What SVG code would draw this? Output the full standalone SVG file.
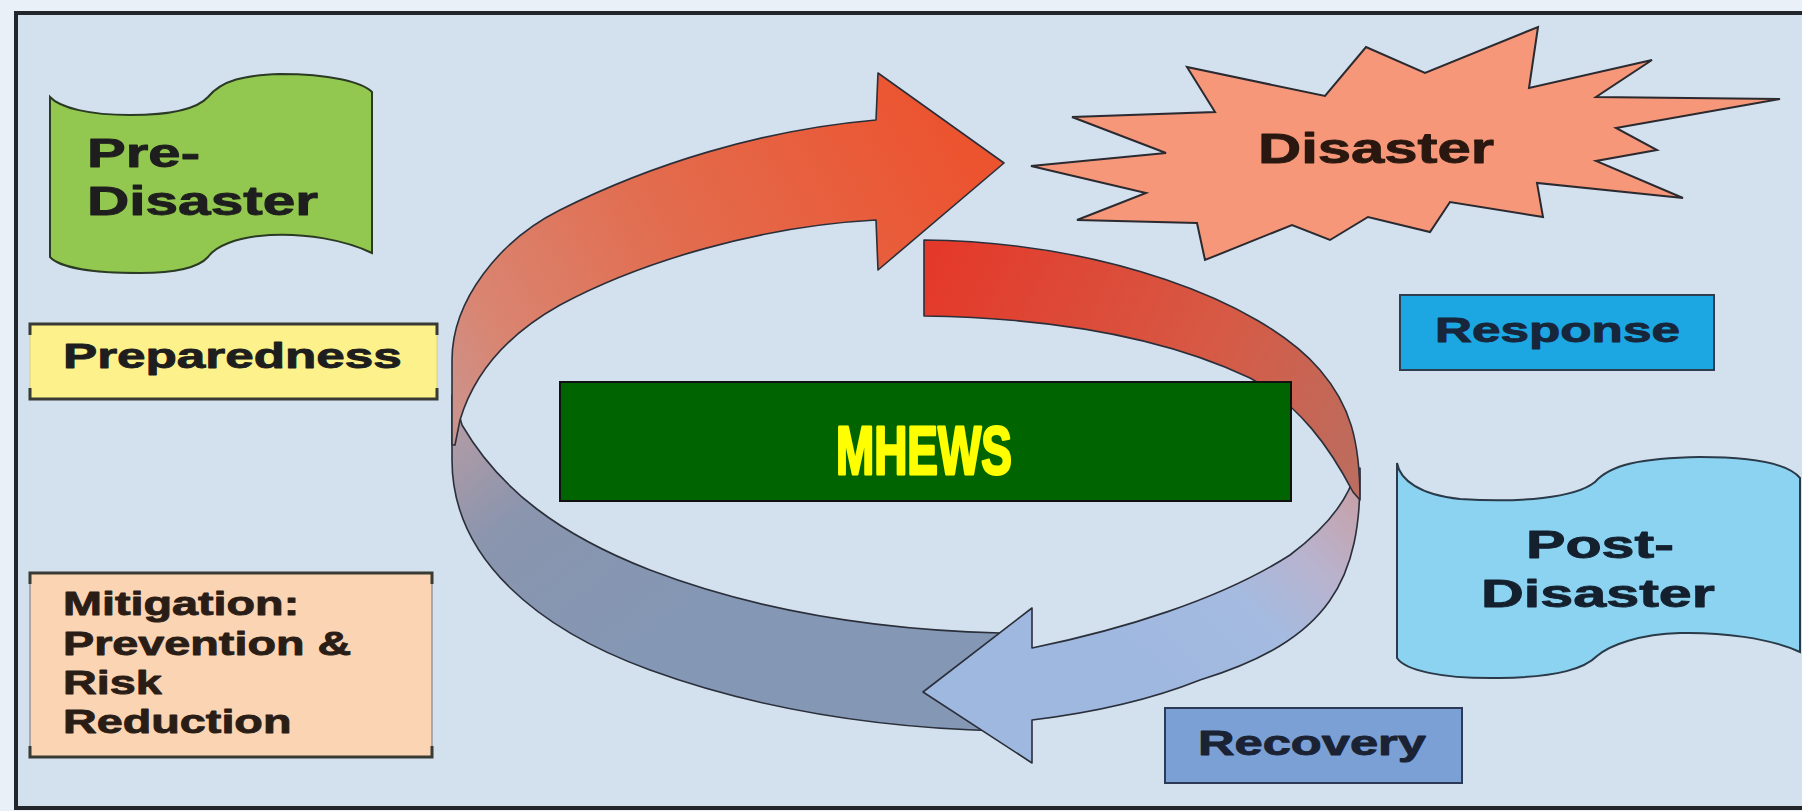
<svg xmlns="http://www.w3.org/2000/svg" width="1802" height="811" viewBox="0 0 1802 811">
  <defs>
    <style>
      .lbl { font-family: "Liberation Sans", Arial, sans-serif; font-weight: bold; fill: #1e1e1e; stroke: #1e1e1e; stroke-width: 0.9; stroke-linejoin: round; }
      .band { stroke: #2a2f3a; stroke-width: 1.6; stroke-linejoin: round; }
      .bracket { fill: none; stroke: #3a3a34; stroke-width: 3; }
    </style>
    <linearGradient id="gRedTop" gradientUnits="userSpaceOnUse" x1="960" y1="160" x2="455" y2="440">
      <stop offset="0" stop-color="#ec5430"/>
      <stop offset="0.5" stop-color="#e26c4e"/>
      <stop offset="0.85" stop-color="#d98572"/>
      <stop offset="1" stop-color="#c9958f"/>
    </linearGradient>
    <linearGradient id="gGreyBand" gradientUnits="userSpaceOnUse" x1="455" y1="410" x2="640" y2="650">
      <stop offset="0" stop-color="#b79ca4"/>
      <stop offset="0.4" stop-color="#8a95ae"/>
      <stop offset="1" stop-color="#8497b4"/>
    </linearGradient>
    <linearGradient id="gRedRight" gradientUnits="userSpaceOnUse" x1="924" y1="280" x2="1360" y2="490">
      <stop offset="0" stop-color="#e4392a"/>
      <stop offset="0.6" stop-color="#d65a45"/>
      <stop offset="1" stop-color="#bb6e60"/>
    </linearGradient>
    <linearGradient id="gBlueArrow" gradientUnits="userSpaceOnUse" x1="1350" y1="480" x2="1150" y2="690">
      <stop offset="0" stop-color="#c7a0a6"/>
      <stop offset="0.3" stop-color="#b8b3cf"/>
      <stop offset="0.55" stop-color="#a5bbe0"/>
      <stop offset="1" stop-color="#9fb8e0"/>
    </linearGradient>
  </defs>

  <!-- page and frame -->
  <rect x="0" y="0" width="1802" height="811" fill="#eaf0f7"/>
  <rect x="16" y="13" width="1800" height="795" fill="#d3e0ee" stroke="#22262b" stroke-width="4"/>

  <!-- cycle ribbon -->
  <g id="connectors">
    <path class="band" fill="url(#gGreyBand)" d="M452,395 L452,460 C452,560 540,630 650,670 C760,710 880,728 1000,731 L1000,633 C880,630 760,612 650,570 C560,535 500,490 462,425 L455,400 Z"/>
    <path class="band" fill="url(#gRedTop)" d="M452,445 L452,360 C452,300 500,240 560,210 C650,165 760,130 876,120 L878,73 L1004,163 L878,270 L876,220 C760,226 640,262 560,305 C510,333 475,370 460,420 L455,445 Z"/>
    <path class="band" fill="url(#gBlueArrow)" d="M1360,468 C1362,580 1330,640 1200,680 C1150,700 1090,713 1032,720 L1032,763 L923,692 L1032,608 L1032,648 C1120,630 1220,600 1290,555 C1330,525 1350,495 1356,470 Z"/>
    <path class="band" fill="url(#gRedRight)" d="M924,240 C1100,242 1260,300 1320,370 C1350,405 1360,440 1360,500 L1353,492 C1330,448 1300,405 1250,378 C1170,340 1060,318 924,316 Z"/>
  </g>

  <g id="pre-disaster">
    <path d="M50,97 C60,108 90,115 130,115 C175,115 198,108 208,97 C222,80 245,75 280,74 C330,74 362,82 372,92 L372,253 C345,240 305,233 270,235 C235,237 215,247 208,257 C198,268 175,273 140,273 C95,273 60,268 50,257 Z" fill="#93c850" stroke="#2b3a24" stroke-width="2"/>
    <text class="lbl" font-size="40" transform="translate(87,167) scale(1.452,1)">Pre-</text>
    <text class="lbl" font-size="40" transform="translate(87,215) scale(1.464,1)">Disaster</text>
  </g>

  <g id="preparedness">
    <rect x="30" y="324" width="407" height="75" fill="#fdf18c" stroke="#d8cf88" stroke-width="1"/>
    <path class="bracket" d="M30,335 V324 H437 V335 M30,388 V399 H437 V388"/>
    <text class="lbl" font-size="35" transform="translate(63,368) scale(1.464,1)">Preparedness</text>
  </g>

  <g id="mitigation">
    <rect x="30" y="573" width="402" height="184" fill="#fbd4b4" stroke="#9a969c" stroke-width="1.5"/>
    <path class="bracket" d="M30,584 V573 H432 V584 M30,746 V757 H432 V746"/>
    <text class="lbl" font-size="34" style="fill:#2a1d16;stroke:#2a1d16" transform="translate(63,0) scale(1.375,1)">
      <tspan x="0" y="615">Mitigation:</tspan>
      <tspan x="0" y="655">Prevention &amp;</tspan>
      <tspan x="0" y="694">Risk</tspan>
      <tspan x="0" y="733">Reduction</tspan>
    </text>
  </g>

  <g id="disaster">
    <polygon points="1031,166 1166,153 1072,117 1215,112 1187,67 1325,96 1366,47 1425,73 1538,27 1529,88 1652,60 1596,97 1780,99 1616,128 1657,150 1596,161 1683,198 1537,183 1543,217 1450,202 1430,232 1368,217 1330,240 1292,225 1205,260 1197,223 1077,220 1146,193" fill="#f69779" stroke="#2a2a30" stroke-width="2" stroke-linejoin="miter"/>
    <text class="lbl" font-size="42" style="fill:#2a1810;stroke:#2a1810" transform="translate(1258,163) scale(1.424,1)">Disaster</text>
  </g>

  <g id="response">
    <rect x="1400" y="295" width="314" height="75" fill="#1ca6e2" stroke="#2c3e50" stroke-width="2"/>
    <text class="lbl" font-size="35" style="fill:#17263a;stroke:#17263a" transform="translate(1435,342) scale(1.465,1)">Response</text>
  </g>

  <g id="post-disaster">
    <path d="M1397,463 C1400,480 1420,495 1460,499 C1520,503 1575,498 1595,482 C1610,465 1640,458 1700,457 C1760,457 1790,466 1800,478 L1800,652 C1770,638 1720,632 1680,633 C1640,634 1610,645 1597,656 C1585,668 1560,677 1500,678 C1440,679 1405,670 1397,658 Z" fill="#8bd3f1" stroke="#2a3a48" stroke-width="2"/>
    <text class="lbl" font-size="39" style="fill:#14202e;stroke:#14202e" transform="translate(1526,558) scale(1.518,1)">Post-</text>
    <text class="lbl" font-size="39" style="fill:#14202e;stroke:#14202e" transform="translate(1481,607) scale(1.52,1)">Disaster</text>
  </g>

  <g id="recovery">
    <rect x="1165" y="708" width="297" height="75" fill="#7ba0d6" stroke="#2b3b55" stroke-width="2"/>
    <text class="lbl" font-size="35" style="fill:#1a2233;stroke:#1a2233" transform="translate(1198,755) scale(1.447,1)">Recovery</text>
  </g>

  <g id="mhews">
    <rect x="560" y="382" width="731" height="119" fill="#006400" stroke="#111111" stroke-width="2"/>
    <text font-family="'Liberation Sans', Arial, sans-serif" font-weight="bold" font-size="69" fill="#ffff00" stroke="#ffff00" stroke-width="3" stroke-linejoin="round" transform="translate(836,474) scale(0.665,1)">MHEWS</text>
  </g>
</svg>
